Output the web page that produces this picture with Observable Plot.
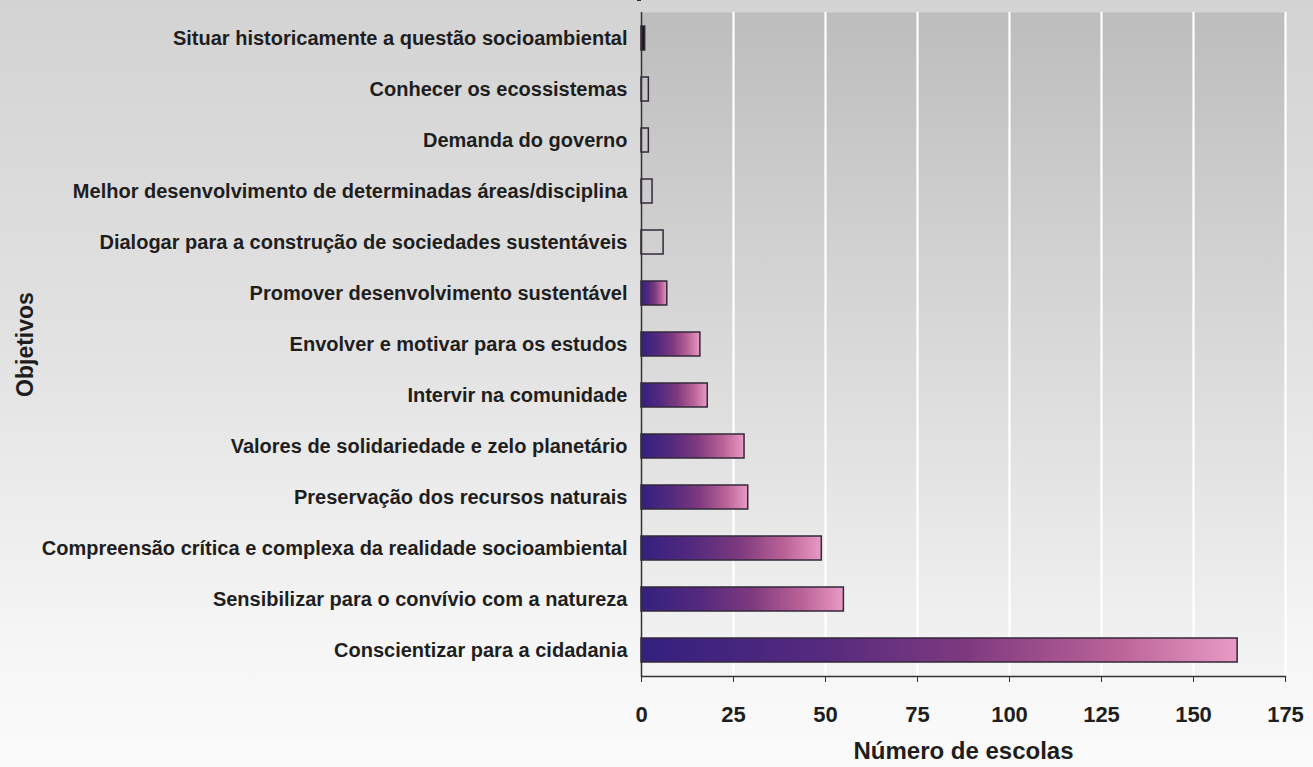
<!DOCTYPE html>
<html lang="pt">
<head>
<meta charset="utf-8">
<script src="https://cdn.jsdelivr.net/npm/d3@7"></script>
<script src="https://cdn.jsdelivr.net/npm/@observablehq/plot@0.6"></script>
<style>
  html, body { margin: 0; padding: 0; }
  body {
    width: 1313px; height: 767px; overflow: hidden;
    background: linear-gradient(to bottom, #d3d3d3 0%, #e2e2e2 45%, #f6f6f6 85%, #fbfbfb 100%);
    font-family: "Liberation Sans", Arial, sans-serif;
  }
  #chart svg { display: block; }
</style>
</head>
<body>
<div id="chart"></div>
<script>
// Objetivos da educação ambiental nas escolas (número de escolas)
const categories = [
  "Situar historicamente a questão socioambiental",
  "Conhecer os ecossistemas",
  "Demanda do governo",
  "Melhor desenvolvimento de determinadas áreas/disciplina",
  "Dialogar para a construção de sociedades sustentáveis",
  "Promover desenvolvimento sustentável",
  "Envolver e motivar para os estudos",
  "Intervir na comunidade",
  "Valores de solidariedade e zelo planetário",
  "Preservação dos recursos naturais",
  "Compreensão crítica e complexa da realidade socioambiental",
  "Sensibilizar para o convívio com a natureza",
  "Conscientizar para a cidadania"
];
const escolas = [1, 2, 2, 3, 6, 7, 16, 18, 28, 29, 49, 55, 162];
const xTicks = [0, 25, 50, 75, 100, 125, 150, 175];
const xTitle = "Número de escolas";
const yTitle = "Objetivos";

const data = categories.map((objetivo, i) => ({objetivo, escolas: escolas[i], ordem: i}));

// first row drawn solid, the next four hollow, the rest with the gradient
function barFill(d) {
  if (d.ordem === 0) return "#1b1b1b";
  if (d.ordem <= 4) return "none";
  return "url(#barGrad)";
}

const padInner = 0.535;

// small category ticks on the left of the y axis, between rows
function categoryTicks(index, scales, values, dimensions) {
  const y = scales.y, x = scales.x;
  const ys = categories.map(c => y(c));
  const step = ys[1] - ys[0];
  const bw = y.bandwidth ?? step * (1 - padInner);
  const g = d3.create("svg:g").attr("stroke", "#333").attr("stroke-width", 1.2);
  const x0 = x(0);
  for (const yy of ys) {
    const b = yy - (step - bw) / 2;
    g.append("line").attr("x1", x0 - 4).attr("x2", x0).attr("y1", b).attr("y2", b);
  }
  return g.node();
}

const chart = Plot.plot({
  width: 1313,
  height: 767,
  marginLeft: 641,
  marginRight: 28,
  marginTop: 12,
  marginBottom: 91,
  style: {background: "transparent", fontFamily: "'Liberation Sans', Arial, sans-serif", color: "#1e1e1e", overflow: "visible"},
  x: {domain: [0, 175]},
  y: {domain: categories, paddingInner: padInner, paddingOuter: padInner / 2},
  marks: [
    Plot.frame({fill: "url(#plotBg)", stroke: "none"}),
    Plot.ruleX(xTicks.filter(t => t > 0), {stroke: "white", strokeWidth: 2.2}),
    Plot.barX(data, {x: "escolas", y: "objetivo", fill: barFill, stroke: "#33283a", strokeWidth: 1.5}),
    Plot.ruleX([0], {stroke: "#333", strokeWidth: 1.5}),
    Plot.frame({anchor: "bottom", stroke: "#333", strokeWidth: 1.5}),
    categoryTicks,
    Plot.axisY({tickSize: 0, tickPadding: 14, fontSize: 20, fontWeight: "bold", label: null}),
    Plot.axisY({ticks: [], tickSize: 0, label: yTitle, labelAnchor: "center", labelOffset: 625, labelArrow: "none", fontSize: 23, fontWeight: "bold"}),
    Plot.axisX({ticks: xTicks, tickSize: 6, tickPadding: 24, fontSize: 22, fontWeight: "bold", stroke: "#333", label: null}),
    Plot.axisX({ticks: [], tickSize: 0, label: xTitle, labelAnchor: "center", labelOffset: 82, labelArrow: "none", fontSize: 24, fontWeight: "bold"})
  ]
});

// gradients for the bars and the plotting area
const defs = `
<defs>
  <linearGradient id="barGrad" x1="0" y1="0" x2="1" y2="0">
    <stop offset="0" stop-color="#33207e"/>
    <stop offset="0.3" stop-color="#552a7e"/>
    <stop offset="0.55" stop-color="#7f3a7f"/>
    <stop offset="0.8" stop-color="#bb6398"/>
    <stop offset="1" stop-color="#e89ac4"/>
  </linearGradient>
  <linearGradient id="plotBg" x1="0" y1="0" x2="0" y2="1">
    <stop offset="0" stop-color="#bdbdbd"/>
    <stop offset="0.5" stop-color="#d9d9d9"/>
    <stop offset="1" stop-color="#f4f4f4"/>
  </linearGradient>
</defs>`;
chart.insertAdjacentHTML("afterbegin", defs);
document.getElementById("chart").append(chart);
</script>
</body>
</html>
